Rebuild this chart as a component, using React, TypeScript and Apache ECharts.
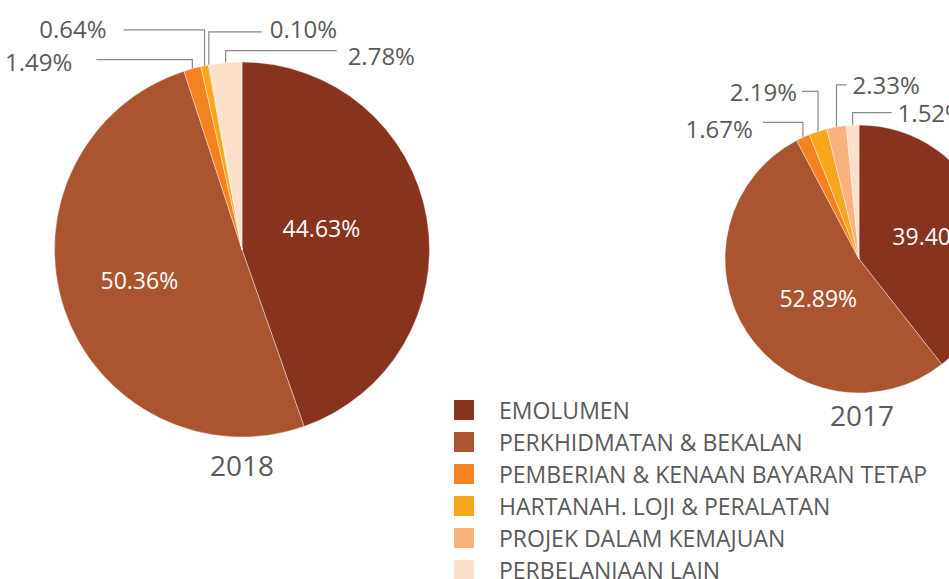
import React, { useEffect, useRef } from 'react';
import * as echarts from 'echarts';

const categories = [
  'EMOLUMEN',
  'PERKHIDMATAN & BEKALAN',
  'PEMBERIAN & KENAAN BAYARAN TETAP',
  'HARTANAH. LOJI & PERALATAN',
  'PROJEK DALAM KEMAJUAN',
  'PERBELANJAAN LAIN',
];
const values2018 = [44.63, 50.36, 1.49, 0.64, 0.1, 2.78];
const values2017 = [39.4, 52.89, 1.67, 2.19, 2.33, 1.52];
const years = ['2018', '2017'];
const colors = ['#88331e', '#aa5430', '#f58220', '#f7a61e', '#f9b27e', '#fde0cc'];

const FONT = 'Open Sans';
const GREY = '#5a5a5a';

// leader-line layout for outside labels (rise above edge point, horizontal run, gap to text, text offset)
const outsideLayout: Record<number, { rise: number; run: number; gap: number; off: number }>[] = [
  {
    2: { rise: 9, run: -96, gap: 24, off: 2 },
    3: { rise: 36, run: -81, gap: 17, off: -1 },
    4: { rise: 33, run: 53, gap: 8, off: -3 },
    5: { rise: 12, run: 111, gap: 11, off: 5 },
  },
  {
    2: { rise: 15, run: -40, gap: 10, off: 6 },
    3: { rise: 40, run: -16, gap: 5, off: 0 },
    4: { rise: 42, run: 10, gap: 6, off: 0 },
    5: { rise: 12.5, run: 39, gap: 6, off: 0 },
  },
];
const insideShift: Record<number, number[]>[] = [
  { 0: [-16, -5], 1: [-11, 0] },
  { 0: [6, 0], 1: [18, 1] },
];

function makeData(values: number[]) {
  return categories.map((name, i) => {
    const inside = i < 2;
    return {
      name,
      value: values[i],
      label: inside
        ? { position: 'inside', color: '#ffffff', fontSize: 23 }
        : { position: 'outside', color: GREY, fontSize: 24 },
      labelLine: { show: !inside },
    };
  });
}

function makeLayout(s: number) {
  return (p: any) => {
    const i = p.dataIndex;
    if (i < 2) {
      const [dx, dy] = insideShift[s][i];
      return { dx, dy };
    }
    const c = outsideLayout[s][i];
    const p0 = p.labelLinePoints[0];
    const topY = p0[1] - c.rise;
    const endX = p0[0] + c.run;
    const dir = c.run >= 0 ? 1 : -1;
    return {
      x: endX + dir * c.gap,
      y: topY + c.off,
      align: dir > 0 ? 'left' : 'right',
      verticalAlign: 'middle',
      labelLinePoints: [
        [p0[0], p0[1]],
        [p0[0], topY],
        [endX, topY],
      ],
    };
  };
}

export default function App() {
  const ref = useRef<HTMLDivElement>(null);
  useEffect(() => {
    if (!ref.current) return;
    const chart = echarts.init(ref.current, undefined, { renderer: 'svg' });
    const seriesCommon = {
      type: 'pie',
      startAngle: 90,
      clockwise: true,
      avoidLabelOverlap: false,
      itemStyle: { borderColor: '#ffffff', borderWidth: 0.4 },
      emphasis: { disabled: true },
      labelLine: { lineStyle: { color: '#8a8a8a', width: 1.2 }, smooth: false },
      label: {
        formatter: (p: any) => p.value.toFixed(2) + '%',
        fontFamily: FONT,
      },
    };
    chart.setOption({
      animation: false,
      textStyle: { fontFamily: FONT },
      color: colors,
      legend: {
        orient: 'vertical',
        left: 452,
        top: 398,
        height: 300,
        padding: 0,
        itemWidth: 22,
        itemHeight: 22,
        itemGap: 8,
        icon: 'rect',
        selectedMode: false,
        data: categories,
        textStyle: { color: GREY, fontSize: 23, fontFamily: FONT, padding: [0, 0, 0, 19] },
      },
      graphic: [
        {
          type: 'text',
          x: 242,
          y: 465,
          style: { text: years[0], fill: GREY, fontSize: 28, fontFamily: FONT, textAlign: 'center', textVerticalAlign: 'middle' },
        },
        {
          type: 'text',
          x: 862,
          y: 415,
          style: { text: years[1], fill: GREY, fontSize: 28, fontFamily: FONT, textAlign: 'center', textVerticalAlign: 'middle' },
        },
      ],
      series: [
        {
          ...seriesCommon,
          name: years[0],
          center: [242, 249.5],
          radius: 187.5,
          data: makeData(values2018),
          labelLayout: makeLayout(0),
        },
        {
          ...seriesCommon,
          name: years[1],
          center: [859, 259],
          radius: 134,
          data: makeData(values2017),
          labelLayout: makeLayout(1),
        },
      ],
    });
    return () => chart.dispose();
  }, []);
  return (
    <div
      ref={ref}
      style={{ position: 'fixed', left: 0, top: 0, width: 949, height: 579, background: '#ffffff' }}
    />
  );
}
